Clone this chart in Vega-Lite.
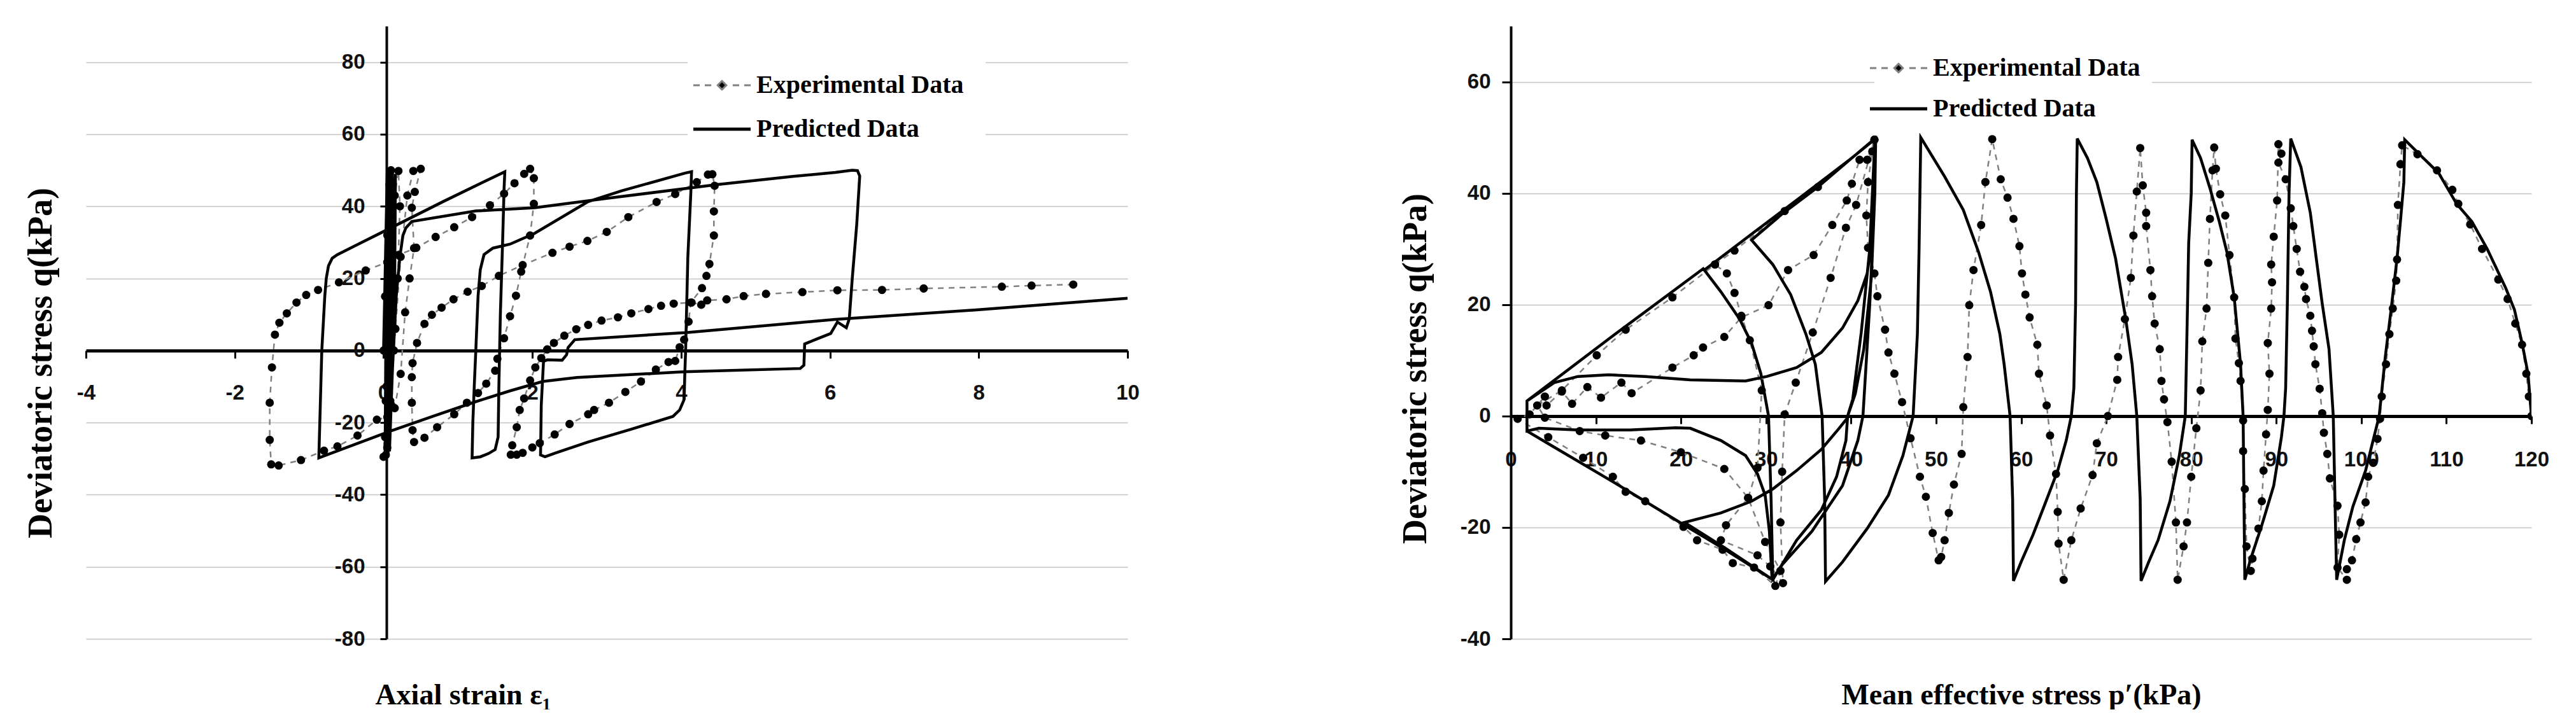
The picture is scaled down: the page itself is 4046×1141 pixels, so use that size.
{
"$schema": "https://vega.github.io/schema/vega-lite/v6.json",
"background": "white",
"padding": {"left": 37, "top": 41, "right": 0, "bottom": 0},
"spacing": 406,
"config": {"view": {"stroke": null}},
"resolve": {"scale": {"color": "independent"}, "legend": {"color": "independent"}},
"datasets": {
"lp": [
{"i":0,"x":0,"y":0},{"i":1,"x":0.02,"y":20},{"i":2,"x":0.04,"y":40},{"i":3,"x":0.05,"y":50},{"i":4,"x":0.05,"y":30},{"i":5,"x":0.03,"y":0},{"i":6,"x":0.02,"y":-30},{"i":7,"x":0.04,"y":-10},{"i":8,"x":0.06,"y":20},{"i":9,"x":0.08,"y":49.5},
{"i":10,"x":0.08,"y":25},{"i":11,"x":0.06,"y":0},{"i":12,"x":0.04,"y":-29.5},{"i":13,"x":0.07,"y":-5},{"i":14,"x":0.1,"y":25},{"i":15,"x":0.12,"y":49.5},{"i":16,"x":0.12,"y":25},{"i":17,"x":0.09,"y":0},{"i":18,"x":0.06,"y":-29},{"i":19,"x":0.1,"y":0},
{"i":20,"x":0.14,"y":30},{"i":21,"x":0.16,"y":49},{"i":22,"x":0.15,"y":20},{"i":23,"x":0.12,"y":-5},{"i":24,"x":0.08,"y":-28},{"i":25,"x":0.12,"y":-5},{"i":26,"x":0.17,"y":15},{"i":27,"x":0.22,"y":26},{"i":28,"x":0.26,"y":31.9},{"i":29,"x":0.3,"y":34},
{"i":30,"x":0.38,"y":35.8},{"i":31,"x":1.24,"y":38.7},{"i":32,"x":2.03,"y":39.6},{"i":33,"x":3,"y":42.2},{"i":34,"x":4.47,"y":46},{"i":35,"x":5.5,"y":48.3},{"i":36,"x":6.07,"y":49.4},{"i":37,"x":6.3,"y":50},{"i":38,"x":6.37,"y":49.9},{"i":39,"x":6.4,"y":48.4},
{"i":40,"x":6.36,"y":35},{"i":41,"x":6.3,"y":20},{"i":42,"x":6.26,"y":8.8},{"i":43,"x":6.22,"y":6.3},{"i":44,"x":6.1,"y":7.9},{"i":45,"x":6.01,"y":4.7},{"i":46,"x":5.8,"y":3},{"i":47,"x":5.66,"y":1.8},{"i":48,"x":5.65,"y":-4.1},{"i":49,"x":5.6,"y":-5},
{"i":50,"x":4.04,"y":-5.9},{"i":51,"x":2.6,"y":-7.5},{"i":52,"x":2.14,"y":-8.6},{"i":53,"x":1.7,"y":-11.2},{"i":54,"x":1.24,"y":-14.2},{"i":55,"x":0.66,"y":-18.3},{"i":56,"x":0.09,"y":-22.4},{"i":57,"x":-0.87,"y":-29.8},{"i":58,"x":-0.85,"y":-15},{"i":59,"x":-0.83,"y":0},
{"i":60,"x":-0.79,"y":15},{"i":61,"x":-0.77,"y":20},{"i":62,"x":-0.74,"y":23.5},{"i":63,"x":-0.69,"y":25.6},{"i":64,"x":-0.62,"y":26.6},{"i":65,"x":-0.34,"y":29.5},{"i":66,"x":0,"y":33},{"i":67,"x":0.8,"y":41.3},{"i":68,"x":1.63,"y":49.6},{"i":69,"x":1.62,"y":45},
{"i":70,"x":1.6,"y":30},{"i":71,"x":1.57,"y":10},{"i":72,"x":1.55,"y":-10},{"i":73,"x":1.54,"y":-24},{"i":74,"x":1.5,"y":-27.5},{"i":75,"x":1.41,"y":-28.6},{"i":76,"x":1.3,"y":-29.5},{"i":77,"x":1.19,"y":-29.8},{"i":78,"x":1.2,"y":-20},{"i":79,"x":1.22,"y":-9.5},
{"i":80,"x":1.24,"y":0},{"i":81,"x":1.27,"y":15},{"i":82,"x":1.3,"y":22.4},{"i":83,"x":1.35,"y":26.6},{"i":84,"x":1.47,"y":28.4},{"i":85,"x":1.7,"y":29.5},{"i":86,"x":2.03,"y":32.5},{"i":87,"x":2.75,"y":41.3},{"i":88,"x":3.2,"y":44.3},{"i":89,"x":4.05,"y":49.2},
{"i":90,"x":4.14,"y":49.6},{"i":91,"x":4.13,"y":43.7},{"i":92,"x":4.09,"y":26},{"i":93,"x":4.06,"y":0},{"i":94,"x":4.05,"y":-5.9},{"i":95,"x":4.04,"y":-13.6},{"i":96,"x":3.98,"y":-16.5},{"i":97,"x":3.89,"y":-18.3},{"i":98,"x":3.32,"y":-21.9},{"i":99,"x":2.75,"y":-25.4},
{"i":100,"x":2.3,"y":-28.5},{"i":101,"x":2.17,"y":-29.5},{"i":102,"x":2.11,"y":-29},{"i":103,"x":2.12,"y":-15},{"i":104,"x":2.15,"y":-3},{"i":105,"x":2.2,"y":-2.6},{"i":106,"x":2.4,"y":-2.7},{"i":107,"x":2.46,"y":-1.2},{"i":108,"x":2.48,"y":0.8},{"i":109,"x":2.57,"y":3},
{"i":110,"x":4.09,"y":5},{"i":111,"x":6.07,"y":8.6},{"i":112,"x":8,"y":11.3},{"i":113,"x":10,"y":14.5}
],
"le": [
{"i":0,"x":0,"y":0},{"i":1,"x":0.02,"y":15},{"i":2,"x":0.05,"y":32},{"i":3,"x":0.08,"y":46},{"i":4,"x":0.1,"y":50},{"i":5,"x":0.1,"y":36},{"i":6,"x":0.07,"y":12},{"i":7,"x":0.04,"y":-10},{"i":8,"x":0.02,"y":-24},{"i":9,"x":0,"y":-29.5},
{"i":10,"x":0.03,"y":-14},{"i":11,"x":0.06,"y":6},{"i":12,"x":0.1,"y":26},{"i":13,"x":0.15,"y":43},{"i":14,"x":0.2,"y":49.8},{"i":15,"x":0.22,"y":40},{"i":16,"x":0.19,"y":20},{"i":17,"x":0.14,"y":0},{"i":18,"x":0.1,"y":-15},{"i":19,"x":0.05,"y":-27},
{"i":20,"x":0.03,"y":-29},{"i":21,"x":0.09,"y":-14},{"i":22,"x":0.16,"y":6},{"i":23,"x":0.23,"y":26},{"i":24,"x":0.32,"y":43},{"i":25,"x":0.4,"y":49.8},{"i":26,"x":0.5,"y":50.4},{"i":27,"x":0.42,"y":44},{"i":28,"x":0.38,"y":39.6},{"i":29,"x":0.41,"y":28.4},
{"i":30,"x":0.35,"y":20},{"i":31,"x":0.29,"y":10.6},{"i":32,"x":0.23,"y":-6.5},{"i":33,"x":0.15,"y":-16},{"i":34,"x":0.05,"y":-18.5},{"i":35,"x":-0.09,"y":-19.2},{"i":36,"x":-0.35,"y":-23.6},{"i":37,"x":-0.62,"y":-26.6},{"i":38,"x":-0.8,"y":-27.8},{"i":39,"x":-1.11,"y":-30.4},
{"i":40,"x":-1.41,"y":-31.9},{"i":41,"x":-1.51,"y":-31.6},{"i":42,"x":-1.53,"y":-24.8},{"i":43,"x":-1.53,"y":-14.5},{"i":44,"x":-1.5,"y":-4.7},{"i":45,"x":-1.46,"y":4.4},{"i":46,"x":-1.4,"y":7.7},{"i":47,"x":-1.3,"y":10.3},{"i":48,"x":-1.17,"y":13.3},{"i":49,"x":-1.04,"y":15.4},
{"i":50,"x":-0.88,"y":16.8},{"i":51,"x":-0.6,"y":18.9},{"i":52,"x":-0.24,"y":22.2},{"i":53,"x":0.05,"y":24.5},{"i":54,"x":0.2,"y":26.5},{"i":55,"x":0.44,"y":28.5},{"i":56,"x":0.7,"y":31.5},{"i":57,"x":0.95,"y":34.2},{"i":58,"x":1.19,"y":37},{"i":59,"x":1.43,"y":40.3},
{"i":60,"x":1.62,"y":43.5},{"i":61,"x":1.76,"y":46.4},{"i":62,"x":1.89,"y":49},{"i":63,"x":1.97,"y":50.4},{"i":64,"x":2.02,"y":47.8},{"i":65,"x":2.02,"y":40.7},{"i":66,"x":1.97,"y":31.9},{"i":67,"x":1.85,"y":21.9},{"i":68,"x":1.78,"y":15.2},{"i":69,"x":1.7,"y":9.5},
{"i":70,"x":1.62,"y":3.4},{"i":71,"x":1.53,"y":-2.3},{"i":72,"x":1.5,"y":-5.6},{"i":73,"x":1.38,"y":-9.2},{"i":74,"x":1.27,"y":-11.8},{"i":75,"x":1.12,"y":-14.5},{"i":76,"x":0.95,"y":-17.7},{"i":77,"x":0.72,"y":-21.3},{"i":78,"x":0.55,"y":-24.2},{"i":79,"x":0.41,"y":-25.4},
{"i":80,"x":0.39,"y":-22.1},{"i":81,"x":0.38,"y":-14.5},{"i":82,"x":0.38,"y":-7.4},{"i":83,"x":0.39,"y":-3.5},{"i":84,"x":0.45,"y":2.1},{"i":85,"x":0.55,"y":7.4},{"i":86,"x":0.65,"y":9.9},{"i":87,"x":0.78,"y":11.9},{"i":88,"x":0.94,"y":14.2},{"i":89,"x":1.13,"y":16.3},
{"i":90,"x":1.32,"y":17.9},{"i":91,"x":1.55,"y":20.7},{"i":92,"x":1.87,"y":23.7},{"i":93,"x":2.27,"y":27.1},{"i":94,"x":2.5,"y":28.8},{"i":95,"x":2.74,"y":30.4},{"i":96,"x":3,"y":32.9},{"i":97,"x":3.29,"y":37},{"i":98,"x":3.67,"y":41.2},{"i":99,"x":3.92,"y":43.4},
{"i":100,"x":4.21,"y":46.7},{"i":101,"x":4.36,"y":48.8},{"i":102,"x":4.42,"y":48.9},{"i":103,"x":4.45,"y":45.7},{"i":104,"x":4.44,"y":38.6},{"i":105,"x":4.44,"y":31.9},{"i":106,"x":4.38,"y":24},{"i":107,"x":4.34,"y":20.7},{"i":108,"x":4.28,"y":17.3},{"i":109,"x":4.13,"y":13.3},
{"i":110,"x":4.1,"y":8},{"i":111,"x":4.04,"y":3},{"i":112,"x":3.98,"y":0.9},{"i":113,"x":3.92,"y":-2.9},{"i":114,"x":3.83,"y":-3.2},{"i":115,"x":3.66,"y":-5.3},{"i":116,"x":3.46,"y":-8.6},{"i":117,"x":3.25,"y":-11.5},{"i":118,"x":3.03,"y":-14.5},{"i":119,"x":2.83,"y":-16.5},
{"i":120,"x":2.75,"y":-17.7},{"i":121,"x":2.5,"y":-20.4},{"i":122,"x":2.3,"y":-23.3},{"i":123,"x":2.1,"y":-25.7},{"i":124,"x":2,"y":-26.9},{"i":125,"x":1.87,"y":-28.4},{"i":126,"x":1.79,"y":-28.9},{"i":127,"x":1.71,"y":-28.9},{"i":128,"x":1.73,"y":-26.3},{"i":129,"x":1.79,"y":-21.3},
{"i":130,"x":1.83,"y":-16.5},{"i":131,"x":1.89,"y":-13.3},{"i":132,"x":1.97,"y":-8.3},{"i":133,"x":2.04,"y":-4.7},{"i":134,"x":2.12,"y":-2.1},{"i":135,"x":2.2,"y":0.3},{"i":136,"x":2.29,"y":2.1},{"i":137,"x":2.43,"y":4.1},{"i":138,"x":2.59,"y":5.9},{"i":139,"x":2.75,"y":7.1},
{"i":140,"x":2.93,"y":8.3},{"i":141,"x":3.15,"y":9.2},{"i":142,"x":3.33,"y":10.3},{"i":143,"x":3.56,"y":11.5},{"i":144,"x":3.73,"y":12.4},{"i":145,"x":3.9,"y":13},{"i":146,"x":4.14,"y":13.3},{"i":147,"x":4.27,"y":12.7},{"i":148,"x":4.35,"y":13.9},{"i":149,"x":4.61,"y":14.2},
{"i":150,"x":4.84,"y":15.1},{"i":151,"x":5.14,"y":15.7},{"i":152,"x":5.63,"y":16.2},{"i":153,"x":6.1,"y":16.7},{"i":154,"x":6.7,"y":16.8},{"i":155,"x":7.26,"y":17.2},{"i":156,"x":8.31,"y":17.7},{"i":157,"x":8.71,"y":18},{"i":158,"x":9.27,"y":18.3}
],
"rp": [
{"i":0,"x":120,"y":0},{"i":1,"x":119.6,"y":7.6},{"i":2,"x":118.9,"y":13.1},{"i":3,"x":118,"y":19.1},{"i":4,"x":117,"y":22.9},{"i":5,"x":114.8,"y":30},{"i":6,"x":113,"y":34.9},{"i":7,"x":111.2,"y":38.1},{"i":8,"x":109.1,"y":43.6},{"i":9,"x":106.9,"y":46.9},
{"i":10,"x":105.1,"y":49.6},{"i":11,"x":105,"y":42},{"i":12,"x":104.6,"y":35},{"i":13,"x":104.2,"y":28.3},{"i":14,"x":103.5,"y":19.1},{"i":15,"x":102.8,"y":10.4},{"i":16,"x":102.1,"y":0},{"i":17,"x":100.5,"y":-9.8},{"i":18,"x":99,"y":-16.3},{"i":19,"x":98,"y":-22.3},
{"i":20,"x":97.1,"y":-29.4},{"i":21,"x":96.9,"y":-15},{"i":22,"x":96.7,"y":0},{"i":23,"x":96.2,"y":12},{"i":24,"x":95.4,"y":20.2},{"i":25,"x":94.7,"y":28.3},{"i":26,"x":94,"y":36.5},{"i":27,"x":92.9,"y":44.7},{"i":28,"x":91.7,"y":49.8},{"i":29,"x":91.5,"y":40},
{"i":30,"x":91.3,"y":20},{"i":31,"x":91.1,"y":5},{"i":32,"x":90.9,"y":0},{"i":33,"x":90.6,"y":-3.8},{"i":34,"x":89.7,"y":-12.5},{"i":35,"x":88.3,"y":-19.6},{"i":36,"x":87,"y":-25.6},{"i":37,"x":86.3,"y":-29.4},{"i":38,"x":86.2,"y":-15},{"i":39,"x":86.1,"y":0},
{"i":40,"x":85.8,"y":9.3},{"i":41,"x":85.05,"y":21.3},{"i":42,"x":84.2,"y":29.4},{"i":43,"x":83.3,"y":34.9},{"i":44,"x":82.2,"y":40.9},{"i":45,"x":81.1,"y":46.3},{"i":46,"x":80.1,"y":49.6},{"i":47,"x":80,"y":40},{"i":48,"x":79.7,"y":31},{"i":49,"x":79.5,"y":15},
{"i":50,"x":79.3,"y":0},{"i":51,"x":78.6,"y":-7.1},{"i":52,"x":77.5,"y":-15.3},{"i":53,"x":76.1,"y":-22.3},{"i":54,"x":75,"y":-26.2},{"i":55,"x":74.1,"y":-29.6},{"i":56,"x":74,"y":-15},{"i":57,"x":73.6,"y":0},{"i":58,"x":73.05,"y":9.3},{"i":59,"x":72.3,"y":17.4},
{"i":60,"x":71.1,"y":28.3},{"i":61,"x":70,"y":35.4},{"i":62,"x":68.9,"y":42},{"i":63,"x":67.8,"y":46.3},{"i":64,"x":66.6,"y":49.8},{"i":65,"x":66.5,"y":40},{"i":66,"x":66.4,"y":20},{"i":67,"x":66.2,"y":5},{"i":68,"x":65.9,"y":0},{"i":69,"x":65.3,"y":-4.4},
{"i":70,"x":64.3,"y":-9.8},{"i":71,"x":62.8,"y":-15.8},{"i":72,"x":61.4,"y":-21.3},{"i":73,"x":60,"y":-26.2},{"i":74,"x":59.1,"y":-29.6},{"i":75,"x":59,"y":-15},{"i":76,"x":58.7,"y":0},{"i":77,"x":58,"y":9.3},{"i":78,"x":57.5,"y":14.7},{"i":79,"x":56.4,"y":22.3},
{"i":80,"x":55,"y":29.4},{"i":81,"x":53.2,"y":37},{"i":82,"x":51,"y":43},{"i":83,"x":48.2,"y":50},{"i":84,"x":48.1,"y":40},{"i":85,"x":48,"y":30},{"i":86,"x":47.8,"y":14.7},{"i":87,"x":47.3,"y":0},{"i":88,"x":46.1,"y":-7.1},{"i":89,"x":44.4,"y":-14.2},
{"i":90,"x":41.9,"y":-20.2},{"i":91,"x":39,"y":-26.2},{"i":92,"x":37,"y":-29.7},{"i":93,"x":36.9,"y":-15},{"i":94,"x":36.6,"y":0},{"i":95,"x":35.8,"y":9.3},{"i":96,"x":34.7,"y":14.7},{"i":97,"x":32.9,"y":21.8},{"i":98,"x":30.8,"y":27.2},{"i":99,"x":28.3,"y":31.6},
{"i":100,"x":32,"y":36.4},{"i":101,"x":36,"y":41},{"i":102,"x":40,"y":46.2},{"i":103,"x":42.8,"y":49.8},{"i":104,"x":42.7,"y":40},{"i":105,"x":42.5,"y":30},{"i":106,"x":42.2,"y":20},{"i":107,"x":41.8,"y":10},{"i":108,"x":41.4,"y":0},{"i":109,"x":40.8,"y":-4.4},
{"i":110,"x":39,"y":-12.5},{"i":111,"x":35.4,"y":-20.7},{"i":112,"x":31.9,"y":-26.7},{"i":113,"x":30.8,"y":-29.2},{"i":114,"x":30.6,"y":-15},{"i":115,"x":30.3,"y":0},{"i":116,"x":29.4,"y":7.6},{"i":117,"x":28.3,"y":13.1},{"i":118,"x":26.9,"y":17.4},{"i":119,"x":24.7,"y":22.3},
{"i":120,"x":22.75,"y":26.2},{"i":121,"x":28,"y":32.3},{"i":122,"x":34,"y":39.2},{"i":123,"x":40,"y":46.2},{"i":124,"x":42.9,"y":49.8},{"i":125,"x":42.8,"y":40},{"i":126,"x":42.4,"y":25},{"i":127,"x":41.5,"y":12},{"i":128,"x":40.5,"y":4},{"i":129,"x":39.5,"y":-0.5},
{"i":130,"x":38.6,"y":-2.2},{"i":131,"x":36.5,"y":-6},{"i":132,"x":33.6,"y":-9.8},{"i":133,"x":30.8,"y":-13.1},{"i":134,"x":28.3,"y":-15.3},{"i":135,"x":24.7,"y":-17.4},{"i":136,"x":20.4,"y":-19.1},{"i":137,"x":25,"y":-23.5},{"i":138,"x":30.8,"y":-29.4},{"i":139,"x":33.6,"y":-22.3},
{"i":140,"x":36.5,"y":-16.9},{"i":141,"x":38.3,"y":-10.9},{"i":142,"x":39.4,"y":-4.4},{"i":143,"x":39.6,"y":0},{"i":144,"x":40.2,"y":3},{"i":145,"x":41.2,"y":15},{"i":146,"x":42.2,"y":30},{"i":147,"x":42.8,"y":49.5},{"i":148,"x":42.4,"y":31},{"i":149,"x":41.9,"y":25.6},
{"i":150,"x":40.8,"y":20.7},{"i":151,"x":39,"y":15.8},{"i":152,"x":36.5,"y":11.4},{"i":153,"x":33.6,"y":8.7},{"i":154,"x":30.1,"y":7.1},{"i":155,"x":27.6,"y":6.3},{"i":156,"x":21.1,"y":6.5},{"i":157,"x":15.8,"y":7.1},{"i":158,"x":11.5,"y":7.4},{"i":159,"x":7.9,"y":7.1},
{"i":160,"x":5.1,"y":6},{"i":161,"x":1.9,"y":2.7},{"i":162,"x":1.9,"y":-2.7},{"i":163,"x":3.3,"y":-2.2},{"i":164,"x":7.9,"y":-2.5},{"i":165,"x":14,"y":-2.5},{"i":166,"x":19.4,"y":-2.1},{"i":167,"x":21.1,"y":-2.2},{"i":168,"x":24.7,"y":-4.4},{"i":169,"x":27.6,"y":-7.1},
{"i":170,"x":29,"y":-10.4},{"i":171,"x":29.9,"y":-14.2},{"i":172,"x":30.4,"y":-20.7},{"i":173,"x":30.7,"y":-28.9},{"i":174,"x":30.8,"y":-29.4},{"i":175,"x":24.9,"y":-23.7},{"i":176,"x":20.3,"y":-19.5},{"i":177,"x":12,"y":-11.8},{"i":178,"x":5,"y":-5.5},{"i":179,"x":1.9,"y":-2.7},
{"i":180,"x":1.9,"y":2.7},{"i":181,"x":12,"y":14.4},{"i":182,"x":22.75,"y":26.6}
],
"re": [
{"i":0,"x":120,"y":0},{"i":1,"x":119.7,"y":3.5},{"i":2,"x":119.4,"y":7.6},{"i":3,"x":118.9,"y":12.8},{"i":4,"x":118.1,"y":16.6},{"i":5,"x":117.2,"y":21},{"i":6,"x":116.1,"y":24.5},{"i":7,"x":114.2,"y":30},{"i":8,"x":112.8,"y":34.4},{"i":9,"x":111.4,"y":38.1},
{"i":10,"x":110.7,"y":40.6},{"i":11,"x":108.9,"y":44.1},{"i":12,"x":106.6,"y":47},{"i":13,"x":104.8,"y":48.6},{"i":14,"x":104.6,"y":45.2},{"i":15,"x":104.3,"y":37.9},{"i":16,"x":104.2,"y":28.1},{"i":17,"x":104.1,"y":24.3},{"i":18,"x":103.7,"y":19.3},{"i":19,"x":103.3,"y":14.7},
{"i":20,"x":102.9,"y":9.3},{"i":21,"x":102.4,"y":3.5},{"i":22,"x":102.2,"y":-0.5},{"i":23,"x":101.9,"y":-4.1},{"i":24,"x":101.4,"y":-8.4},{"i":25,"x":100.8,"y":-10.9},{"i":26,"x":100.5,"y":-15.5},{"i":27,"x":99.9,"y":-19.1},{"i":28,"x":99.4,"y":-22.1},{"i":29,"x":98.9,"y":-25.9},
{"i":30,"x":98.3,"y":-27.5},{"i":31,"x":98.3,"y":-29.4},{"i":32,"x":97.2,"y":-27.2},{"i":33,"x":97.4,"y":-21.3},{"i":34,"x":97.2,"y":-16.1},{"i":35,"x":96.3,"y":-11.2},{"i":36,"x":96,"y":-6.8},{"i":37,"x":95.6,"y":-3},{"i":38,"x":95.4,"y":0.5},{"i":39,"x":95.1,"y":4.9},
{"i":40,"x":94.6,"y":9.3},{"i":41,"x":94.4,"y":12.5},{"i":42,"x":94.2,"y":15.3},{"i":43,"x":94,"y":18},{"i":44,"x":93.5,"y":21},{"i":45,"x":93.3,"y":23.2},{"i":46,"x":92.8,"y":25.9},{"i":47,"x":92.4,"y":30},{"i":48,"x":92,"y":34.1},{"i":49,"x":91.7,"y":37.3},
{"i":50,"x":91.1,"y":42.5},{"i":51,"x":90.25,"y":45.5},{"i":52,"x":90.6,"y":47.1},{"i":53,"x":90.25,"y":48.8},{"i":54,"x":90.1,"y":38.7},{"i":55,"x":89.7,"y":32.2},{"i":56,"x":89.4,"y":27.2},{"i":57,"x":89.5,"y":24},{"i":58,"x":89.4,"y":19.3},{"i":59,"x":89,"y":13.1},
{"i":60,"x":89.2,"y":7.6},{"i":61,"x":89,"y":1.1},{"i":62,"x":88.8,"y":-3.3},{"i":63,"x":88.5,"y":-9.8},{"i":64,"x":88.3,"y":-15.3},{"i":65,"x":87.9,"y":-20.2},{"i":66,"x":87.2,"y":-25.6},{"i":67,"x":87,"y":-27.8},{"i":68,"x":86.5,"y":-23.4},{"i":69,"x":86.3,"y":-13.1},
{"i":70,"x":86.1,"y":-6.3},{"i":71,"x":86.1,"y":-0.8},{"i":72,"x":85.8,"y":6.3},{"i":73,"x":85.6,"y":9.5},{"i":74,"x":85.2,"y":13.9},{"i":75,"x":85.05,"y":21.3},{"i":76,"x":84.5,"y":28.9},{"i":77,"x":84,"y":36},{"i":78,"x":83.4,"y":39.8},{"i":79,"x":82.9,"y":44.4},
{"i":80,"x":82.7,"y":48.2},{"i":81,"x":82.5,"y":44.1},{"i":82,"x":82.2,"y":35.4},{"i":83,"x":82,"y":27.5},{"i":84,"x":81.8,"y":19.3},{"i":85,"x":81.3,"y":13.4},{"i":86,"x":81.1,"y":4.6},{"i":87,"x":80.6,"y":-2.2},{"i":88,"x":80,"y":-10.9},{"i":89,"x":79.5,"y":-19.1},
{"i":90,"x":79.1,"y":-23.4},{"i":91,"x":78.4,"y":-29.4},{"i":92,"x":78.2,"y":-19.1},{"i":93,"x":77.7,"y":-8.2},{"i":94,"x":77.2,"y":-1.1},{"i":95,"x":76.8,"y":3},{"i":96,"x":76.5,"y":6.3},{"i":97,"x":76.3,"y":12},{"i":98,"x":75.7,"y":16.6},{"i":99,"x":75.4,"y":21.5},
{"i":100,"x":75.2,"y":26.2},{"i":101,"x":74.7,"y":34.1},{"i":102,"x":74.7,"y":36.5},{"i":103,"x":74.3,"y":41.4},{"i":104,"x":74,"y":48.1},{"i":105,"x":73.6,"y":40.3},{"i":106,"x":73.2,"y":32.4},{"i":107,"x":72.9,"y":24.8},{"i":108,"x":72.2,"y":17.4},{"i":109,"x":71.4,"y":10.6},
{"i":110,"x":71.3,"y":6.5},{"i":111,"x":70.2,"y":0},{"i":112,"x":68.9,"y":-4.9},{"i":113,"x":68.4,"y":-10.6},{"i":114,"x":67,"y":-16.6},{"i":115,"x":65.9,"y":-22.3},{"i":116,"x":65,"y":-29.4},{"i":117,"x":64.4,"y":-22.9},{"i":118,"x":64.3,"y":-17.2},{"i":119,"x":64.1,"y":-10.4},
{"i":120,"x":63.4,"y":-3.5},{"i":121,"x":63,"y":1.9},{"i":122,"x":62.1,"y":7.6},{"i":123,"x":61.9,"y":12.8},{"i":124,"x":61,"y":17.7},{"i":125,"x":60.5,"y":21.8},{"i":126,"x":60.1,"y":25.6},{"i":127,"x":59.8,"y":30.5},{"i":128,"x":59.1,"y":35.4},{"i":129,"x":58.4,"y":39.2},
{"i":130,"x":57.6,"y":42.5},{"i":131,"x":56.6,"y":49.7},{"i":132,"x":55.8,"y":42},{"i":133,"x":55.3,"y":34.3},{"i":134,"x":54.4,"y":26.2},{"i":135,"x":53.9,"y":19.9},{"i":136,"x":53.7,"y":10.6},{"i":137,"x":53.2,"y":1.6},{"i":138,"x":53,"y":-6.8},{"i":139,"x":52.1,"y":-12.3},
{"i":140,"x":51.5,"y":-17.4},{"i":141,"x":51,"y":-22.3},{"i":142,"x":50.6,"y":-25.3},{"i":143,"x":50.3,"y":-25.9},{"i":144,"x":49.6,"y":-21},{"i":145,"x":48.8,"y":-14.5},{"i":146,"x":48.1,"y":-10.9},{"i":147,"x":47,"y":-4},{"i":148,"x":46,"y":2.5},{"i":149,"x":45.1,"y":7.6},
{"i":150,"x":44.4,"y":11.4},{"i":151,"x":44,"y":15.5},{"i":152,"x":43.1,"y":21.5},{"i":153,"x":42.75,"y":25.6},{"i":154,"x":42,"y":30.2},{"i":155,"x":41.8,"y":36},{"i":156,"x":42,"y":42},{"i":157,"x":42.5,"y":47.5},{"i":158,"x":42.75,"y":49.6},{"i":159,"x":41.9,"y":46},
{"i":160,"x":41,"y":46},{"i":161,"x":40.1,"y":41.7},{"i":162,"x":39.5,"y":38.7},{"i":163,"x":37.8,"y":34.3},{"i":164,"x":35.6,"y":28.9},{"i":165,"x":32.6,"y":26.2},{"i":166,"x":30.3,"y":19.9},{"i":167,"x":27.1,"y":17.7},{"i":168,"x":25.1,"y":14.2},{"i":169,"x":22.6,"y":12.3},
{"i":170,"x":21.5,"y":10.9},{"i":171,"x":19,"y":8.7},{"i":172,"x":14.2,"y":4.1},{"i":173,"x":13,"y":6},{"i":174,"x":10.6,"y":3.3},{"i":175,"x":9,"y":5.2},{"i":176,"x":7.2,"y":2.2},{"i":177,"x":6,"y":4.4},{"i":178,"x":4.2,"y":1.9},{"i":179,"x":4,"y":3.5},
{"i":180,"x":2.2,"y":0.3},{"i":181,"x":0.8,"y":-0.5},{"i":182,"x":4.4,"y":-3.8},{"i":183,"x":8.5,"y":-7.5},{"i":184,"x":12,"y":-10.9},{"i":185,"x":13.5,"y":-13.6},{"i":186,"x":15.8,"y":-15.3},{"i":187,"x":20.3,"y":-19.9},{"i":188,"x":21.9,"y":-22.3},{"i":189,"x":24.9,"y":-24},
{"i":190,"x":26.1,"y":-26.4},{"i":191,"x":28.6,"y":-27.2},{"i":192,"x":31.1,"y":-30.5},{"i":193,"x":31.7,"y":-27.8},{"i":194,"x":29.9,"y":-22.6},{"i":195,"x":27.9,"y":-14.7},{"i":196,"x":25.1,"y":-9.5},{"i":197,"x":20,"y":-6.5},{"i":198,"x":15.3,"y":-4.4},{"i":199,"x":11.1,"y":-3.5},
{"i":200,"x":8.1,"y":-2.7},{"i":201,"x":4,"y":-0.3},{"i":202,"x":3.1,"y":1.9},{"i":203,"x":6,"y":4.6},{"i":204,"x":10.1,"y":10.9},{"i":205,"x":13.5,"y":15.5},{"i":206,"x":19,"y":21.3},{"i":207,"x":24,"y":27.2},{"i":208,"x":26.3,"y":29.7},{"i":209,"x":32.2,"y":36.8},
{"i":210,"x":36.1,"y":41.1},{"i":211,"x":42.75,"y":49.6},{"i":212,"x":40.6,"y":37.9},{"i":213,"x":39.4,"y":33.8},{"i":214,"x":37.6,"y":24.8},{"i":215,"x":35.5,"y":15},{"i":216,"x":33.5,"y":6},{"i":217,"x":32.2,"y":0.3},{"i":218,"x":31.9,"y":-10},{"i":219,"x":31.7,"y":-19.1},
{"i":220,"x":32,"y":-30},{"i":221,"x":30.5,"y":-27},{"i":222,"x":29,"y":-25},{"i":223,"x":24.7,"y":-22.3},{"i":224,"x":25.3,"y":-19.6},{"i":225,"x":27.9,"y":-14.7},{"i":226,"x":29,"y":-9.3},{"i":227,"x":29.5,"y":4.6},{"i":228,"x":28.1,"y":13.6},{"i":229,"x":27.1,"y":18},
{"i":230,"x":26.3,"y":22.1},{"i":231,"x":25.4,"y":25.6},{"i":232,"x":24,"y":27.2}
]
},
"hconcat": [
{
"width": 1636, "height": 963,
"layer": [
{"data": {"name": "le"}, "mark": {"type": "line", "strokeWidth": 2.5, "strokeDash": [9, 8], "clip": true},
 "encoding": {
  "x": {"field": "x", "type": "quantitative", "scale": {"domain": [-4, 10], "nice": false, "zero": false},
   "axis": {"orient": "bottom", "offset": -453, "values": [-4,-2,0,2,4,6,8,10], "labelExpr": "'' + datum.value", "grid": false, "domainColor": "black", "domainWidth": 5, "tickColor": "black", "tickWidth": 3, "tickSize": 12, "labelFont": "Liberation Sans", "labelFontWeight": "bold", "labelFontSize": 33, "labelColor": "#111111", "labelPadding": 38, "labelFlush": false, "labelOverlap": false, "title": "Axial strain  ε₁", "titleFont": "Liberation Serif", "titleFontSize": 46, "titleFontWeight": "bold", "titleColor": "black", "titleX": 592, "titleY": 541, "titleBaseline": "middle", "titleAlign": "center"}},
  "y": {"field": "y", "type": "quantitative", "scale": {"domain": [-80, 90], "nice": false, "zero": false},
   "axis": {"orient": "left", "offset": -472, "values": [-80,-60,-40,-20,0,20,40,60,80], "labelExpr": "'' + datum.value", "grid": true, "gridColor": "#c4c4c4", "gridWidth": 1.6, "domainColor": "black", "domainWidth": 4, "tickColor": "black", "tickWidth": 3, "tickSize": 10, "labelFont": "Liberation Sans", "labelFontWeight": "bold", "labelFontSize": 33, "labelColor": "#111111", "labelPadding": 24, "labelFlush": false, "labelOverlap": false, "title": "Deviatoric stress   q(kPa)", "titleFont": "Liberation Serif", "titleFontSize": 54, "titleFontWeight": "bold", "titleColor": "black", "titleX": -543, "titleY": 529, "titleBaseline": "middle", "titleAlign": "center", "titleAngle": 270}},
  "order": {"field": "i", "type": "quantitative"},
  "color": {"datum": "E", "type": "nominal", "scale": {"domain": ["E", "P"], "range": ["#808080", "#000000"]},
   "legend": {"orient": "none", "legendX": 945, "legendY": 39, "title": null, "padding": 34, "fillColor": "white", "labelFont": "Liberation Serif", "labelFontSize": 40, "labelFontWeight": "bold", "labelColor": "black", "labelOffset": 34, "labelLimit": 700, "rowPadding": 29, "symbolSize": 2025,
    "labelExpr": "datum.value == 'E' ? 'Experimental Data' : 'Predicted Data'",
    "encode": {"symbols": {"update": {
      "shape": {"signal": "datum.value == 'E' ? 'M-2,0H-1.55M-1.2,0H-0.75M0.75,0H1.2M1.55,0H2M-0.3,0L0,-0.3L0.3,0L0,0.3Z' : 'M-2,0H2'"},
      "fill": {"value": "black"},
      "fillOpacity": {"value": 1},
      "stroke": {"signal": "datum.value == 'E' ? '#808080' : '#000000'"},
      "strokeWidth": {"signal": "datum.value == 'E' ? 3 : 5"},
      "strokeDash": {"value": [1, 0]},
      "opacity": {"value": 1},
      "size": {"value": 2025}}}}}}
 }},
{"data": {"name": "le"}, "mark": {"type": "point", "filled": true, "size": 170, "color": "black", "opacity": 1, "clip": true},
 "encoding": {"x": {"field": "x", "type": "quantitative"}, "y": {"field": "y", "type": "quantitative"}}},
{"data": {"name": "lp"}, "mark": {"type": "line", "strokeWidth": 4.5, "clip": true},
 "encoding": {"x": {"field": "x", "type": "quantitative"}, "y": {"field": "y", "type": "quantitative"}, "order": {"field": "i", "type": "quantitative"}, "color": {"datum": "P", "type": "nominal"}}}
]
},
{
"width": 1603, "height": 963,
"layer": [
{"data": {"name": "re"}, "mark": {"type": "line", "strokeWidth": 2.5, "strokeDash": [9, 8], "clip": true},
 "encoding": {
  "x": {"field": "x", "type": "quantitative", "scale": {"domain": [0, 120], "nice": false, "zero": false},
   "axis": {"orient": "bottom", "offset": -350, "values": [0,10,20,30,40,50,60,70,80,90,100,110,120], "labelExpr": "'' + datum.value", "grid": false, "domainColor": "black", "domainWidth": 5, "tickColor": "black", "tickWidth": 3, "tickSize": 12, "labelFont": "Liberation Sans", "labelFontWeight": "bold", "labelFontSize": 33, "labelColor": "#111111", "labelPadding": 40, "labelFlush": false, "labelOverlap": false, "title": "Mean effective stress  p′(kPa)", "titleFont": "Liberation Serif", "titleFontSize": 46, "titleFontWeight": "bold", "titleColor": "black", "titleY": 438, "titleBaseline": "middle", "titleAlign": "center"}},
  "y": {"field": "y", "type": "quantitative", "scale": {"domain": [-40, 70], "nice": false, "zero": false},
   "axis": {"orient": "left", "values": [-40,-20,0,20,40,60], "labelExpr": "'' + datum.value", "grid": true, "gridColor": "#c4c4c4", "gridWidth": 1.6, "domainColor": "black", "domainWidth": 4, "tickColor": "black", "tickWidth": 3, "tickSize": 14, "labelFont": "Liberation Sans", "labelFontWeight": "bold", "labelFontSize": 33, "labelColor": "#111111", "labelPadding": 18, "labelFlush": false, "labelOverlap": false, "title": "Deviatoric stress   q(kPa)", "titleFont": "Liberation Serif", "titleFontSize": 54, "titleFontWeight": "bold", "titleColor": "black", "titleX": -150, "titleY": 538, "titleBaseline": "middle", "titleAlign": "center", "titleAngle": 270}},
  "order": {"field": "i", "type": "quantitative"},
  "color": {"datum": "E", "type": "nominal", "scale": {"domain": ["E", "P"], "range": ["#808080", "#000000"]},
   "legend": {"orient": "none", "legendX": 571, "legendY": 28, "title": null, "padding": 18, "fillColor": "white", "labelFont": "Liberation Serif", "labelFontSize": 40, "labelFontWeight": "bold", "labelColor": "black", "labelOffset": 34, "labelLimit": 700, "rowPadding": 24, "symbolSize": 2025,
    "labelExpr": "datum.value == 'E' ? 'Experimental Data' : 'Predicted Data'",
    "encode": {"symbols": {"update": {
      "shape": {"signal": "datum.value == 'E' ? 'M-2,0H-1.55M-1.2,0H-0.75M0.75,0H1.2M1.55,0H2M-0.3,0L0,-0.3L0.3,0L0,0.3Z' : 'M-2,0H2'"},
      "fill": {"value": "black"},
      "fillOpacity": {"value": 1},
      "stroke": {"signal": "datum.value == 'E' ? '#808080' : '#000000'"},
      "strokeWidth": {"signal": "datum.value == 'E' ? 3 : 5"},
      "strokeDash": {"value": [1, 0]},
      "opacity": {"value": 1},
      "size": {"value": 2025}}}}}}
 }},
{"data": {"name": "re"}, "mark": {"type": "point", "filled": true, "size": 170, "color": "black", "opacity": 1, "clip": true},
 "encoding": {"x": {"field": "x", "type": "quantitative"}, "y": {"field": "y", "type": "quantitative"}}},
{"data": {"name": "rp"}, "mark": {"type": "line", "strokeWidth": 4.5, "clip": true},
 "encoding": {"x": {"field": "x", "type": "quantitative"}, "y": {"field": "y", "type": "quantitative"}, "order": {"field": "i", "type": "quantitative"}, "color": {"datum": "P", "type": "nominal"}}}
]
}
]
}
